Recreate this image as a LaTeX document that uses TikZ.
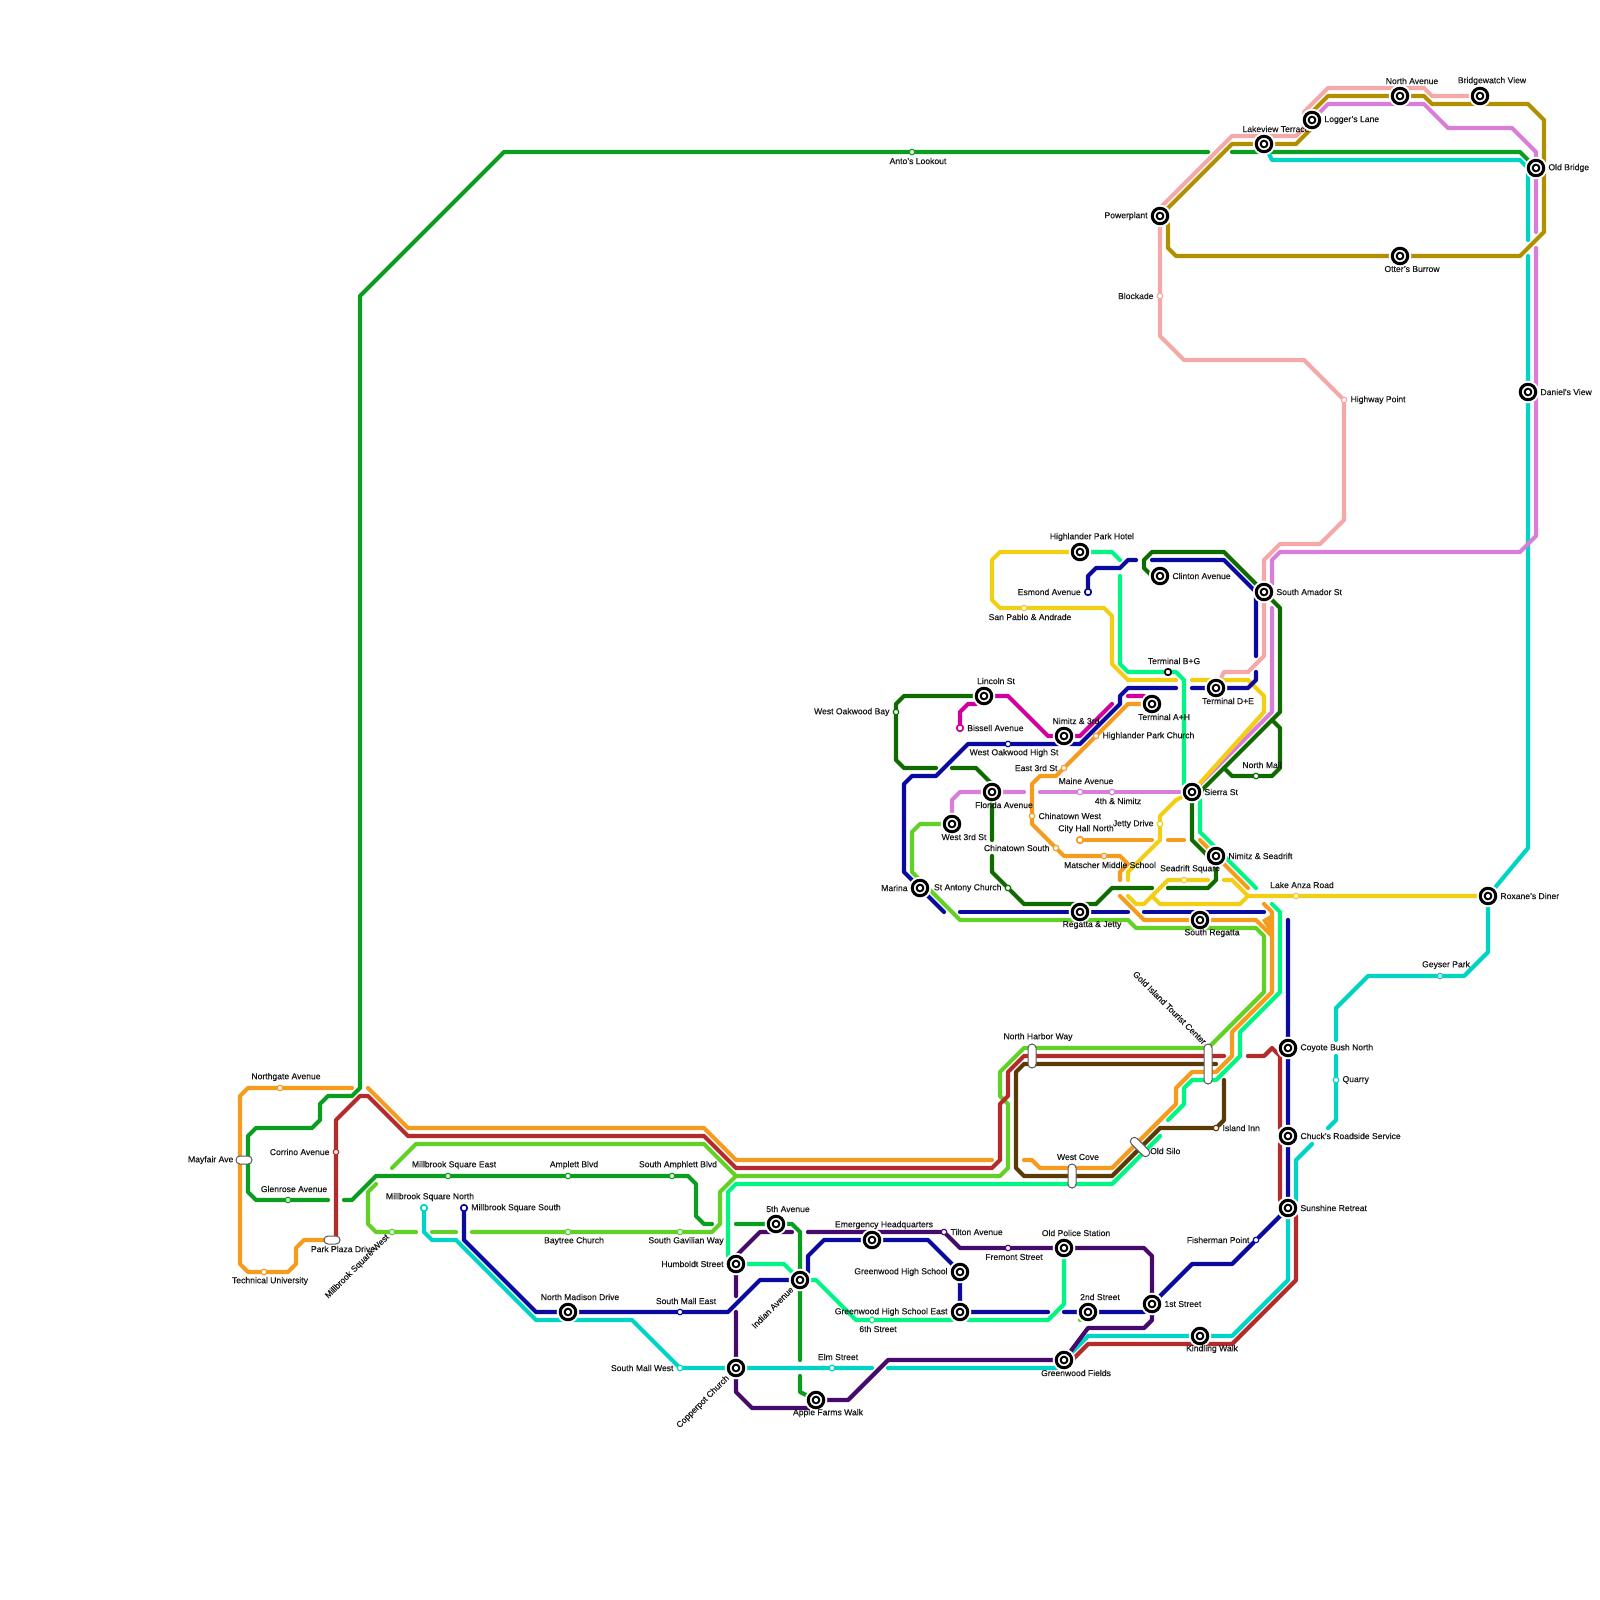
\documentclass[tikz,border=0pt]{standalone}
\usepackage{fontspec}
\setmainfont[FakeBold=0.5]{Liberation Sans}
\usepackage{xcolor}

\definecolor{lineGreen}{HTML}{0A9E20}
\definecolor{linePink}{HTML}{F5A8A8}
\definecolor{lineGold}{HTML}{B09000}
\definecolor{lineTeal}{HTML}{00D4C4}
\definecolor{lineOrchid}{HTML}{D87DD8}
\definecolor{lineMint}{HTML}{00F585}
\definecolor{lineForest}{HTML}{0F6B00}
\definecolor{lineBlue}{HTML}{0A0AA0}
\definecolor{lineOrange}{HTML}{F59B1E}
\definecolor{lineRed}{HTML}{B52A2A}
\definecolor{lineLime}{HTML}{62D024}
\definecolor{lineYellow}{HTML}{F2CF14}
\definecolor{lineMagenta}{HTML}{D000A0}
\definecolor{linePlum}{HTML}{450A6A}
\definecolor{lineBrown}{HTML}{5A3B05}

\pgfdeclarelayer{lines}
\pgfsetlayers{lines,main}

\begin{document}
\begin{tikzpicture}[
    x=1pt, y=-1pt,
    font=\fontsize{8.6}{10}\selectfont,
    metro_line/.style={line width=4.2pt, line cap=round, line join=round},
    hub_stop/.style={circle, draw=black, fill=white, line width=3pt, minimum size=15.5pt, inner sep=0pt,
        preaction={draw=white, line width=7pt},
        path picture={
            \fill[black] (path picture bounding box.center) circle (4.4pt);
            \fill[white] (path picture bounding box.center) circle (2.1pt);
        }},
    small_stop/.style={circle, draw=#1, fill=white, line width=1.2pt, minimum size=5.5pt, inner sep=0pt},
    end_stop/.style={circle, draw=#1, fill=white, line width=1.7pt, minimum size=6.5pt, inner sep=0pt},
    pill_stop/.style={rectangle, rounded corners=3.9pt, draw=black!65, fill=white, line width=1pt, inner sep=0pt},
    station_label/.style={inner sep=0pt, text=black!90},
    hub_n/.style={label={[station_label, xshift=12pt, yshift=15pt]center:#1}},
    hub_s/.style={label={[station_label, xshift=12pt, yshift=-13pt]center:#1}},
    hub_e/.style={label={[station_label, xshift=3pt]right:#1}},
    hub_w/.style={label={[station_label, xshift=-3pt]left:#1}},
    stop_n/.style={label={[station_label, xshift=6pt, yshift=11pt]center:#1}},
    stop_s/.style={label={[station_label, xshift=6pt, yshift=-9pt]center:#1}},
    stop_e/.style={label={[station_label, xshift=3pt]right:#1}},
    stop_w/.style={label={[station_label, xshift=-3pt]left:#1}}
]
\useasboundingbox (0, 0) rectangle (1600, 1600);

% Hub stations
\node[hub_stop, hub_w={Powerplant}] (powerplant) at (1160, 216) {};
\node[hub_stop, hub_n={Lakeview Terrace}] (lakeview) at (1264, 144) {};
\node[hub_stop, hub_e={Logger's Lane}] (loggers) at (1312, 120) {};
\node[hub_stop, hub_n={North Avenue}] (north_avenue) at (1400, 96) {};
\node[hub_stop, hub_n={Bridgewatch View}] (bridgewatch) at (1480, 96) {};
\node[hub_stop, hub_e={Old Bridge}] (old_bridge) at (1536, 168) {};
\node[hub_stop, hub_s={Otter's Burrow}] (otters) at (1400, 256) {};
\node[hub_stop, hub_e={Daniel's View}] (daniels) at (1528, 392) {};
\node[hub_stop, hub_e={South Amador St}] (south_amador) at (1264, 592) {};
\node[hub_stop, hub_e={Clinton Avenue}] (clinton) at (1160, 576) {};
\node[hub_stop, hub_n={Highlander Park Hotel}] (highlander_hotel) at (1080, 552) {};
\node[hub_stop, hub_s={Terminal D+E}] (terminal_de) at (1216, 688) {};
\node[hub_stop, hub_s={Terminal A+H}] (terminal_ah) at (1152, 704) {};
\node[hub_stop, hub_n={Nimitz \& 3rd}] (nimitz_3rd) at (1064, 736) {};
\node[hub_stop, hub_n={Lincoln St}] (lincoln) at (984, 696) {};
\node[hub_stop, hub_s={Florida Avenue}] (florida) at (992, 792) {};
\node[hub_stop, hub_s={West 3rd St}] (west_3rd) at (952, 824) {};
\node[hub_stop, hub_w={Marina}] (marina) at (920, 888) {};
\node[hub_stop, hub_s={Regatta \& Jetty}] (regatta) at (1080, 912) {};
\node[hub_stop, hub_s={South Regatta}] (south_regatta) at (1200, 920) {};
\node[hub_stop, hub_e={Sierra St}] (sierra) at (1192, 792) {};
\node[hub_stop, hub_e={Nimitz \& Seadrift}] (nimitz_seadrift) at (1216, 856) {};
\node[hub_stop, hub_e={Roxane's Diner}] (roxanes) at (1488, 896) {};
\node[hub_stop, hub_e={Coyote Bush North}] (coyote) at (1288, 1048) {};
\node[hub_stop, hub_e={Chuck's Roadside Service}] (chucks) at (1288, 1136) {};
\node[hub_stop, hub_e={Sunshine Retreat}] (sunshine) at (1288, 1208) {};
\node[hub_stop, hub_s={Kindling Walk}] (kindling) at (1200, 1336) {};
\node[hub_stop, hub_s={Greenwood Fields}] (greenwood_fields) at (1064, 1360) {};
\node[hub_stop, hub_e={1st Street}] (first_street) at (1152, 1304) {};
\node[hub_stop, hub_n={2nd Street}] (second_street) at (1088, 1312) {};
\node[hub_stop, hub_n={Old Police Station}] (old_police) at (1064, 1248) {};
\node[hub_stop, hub_w={Greenwood High School East}] (greenwood_east) at (960, 1312) {};
\node[hub_stop, hub_w={Greenwood High School}] (greenwood_high) at (960, 1272) {};
\node[hub_stop, hub_n={Emergency Headquarters}] (emergency) at (872, 1240) {};
\node[hub_stop, hub_n={5th Avenue}] (fifth_avenue) at (776, 1224) {};
\node[hub_stop] (indian) at (800, 1280) {};
\node[hub_stop, hub_w={Humboldt Street}] (humboldt) at (736, 1264) {};
\node[hub_stop] (copperpot) at (736, 1368) {};
\node[hub_stop, hub_s={Apple Farms Walk}] (apple_farms) at (816, 1400) {};
\node[hub_stop, hub_n={North Madison Drive}] (north_madison) at (568, 1312) {};

% Small stations
\node[small_stop=lineGreen, stop_s={Anto's Lookout}] (antos) at (912, 152) {};
\node[small_stop=linePink, stop_w={Blockade}] (blockade) at (1160, 296) {};
\node[small_stop=linePink, stop_e={Highway Point}] (highway_point) at (1344, 400) {};
\node[end_stop=lineBlue, stop_w={Esmond Avenue}] (esmond) at (1088, 592) {};
\node[small_stop=lineYellow, stop_s={San Pablo \& Andrade}] (san_pablo) at (1024, 608) {};
\node[small_stop=lineForest, stop_w={West Oakwood Bay}] (west_oakwood_bay) at (896, 712) {};
\node[end_stop=lineMagenta, stop_e={Bissell Avenue}] (bissell) at (960, 728) {};
\node[small_stop=lineBlue, stop_s={West Oakwood High St}] (west_oakwood_high) at (1008, 744) {};
\node[small_stop=lineOrange, stop_e={Highlander Park Church}] (highlander_church) at (1096, 736) {};
\node[small_stop=lineOrange, stop_w={East 3rd St}] (east_3rd) at (1064, 768) {};
\node[small_stop=lineOrchid, stop_n={Maine Avenue}] (maine) at (1080, 792) {};
\node[small_stop=lineOrchid, stop_s={4th \& Nimitz}] (fourth_nimitz) at (1112, 792) {};
\node[small_stop=lineOrange, stop_e={Chinatown West}] (chinatown_west) at (1032, 816) {};
\node[end_stop=lineOrange, stop_n={City Hall North}] (city_hall) at (1080, 840) {};
\node[small_stop=lineOrange, stop_w={Chinatown South}] (chinatown_south) at (1056, 848) {};
\node[small_stop=lineOrange, stop_s={Matscher Middle School}] (matscher) at (1104, 856) {};
\node[small_stop=lineYellow, stop_w={Jetty Drive}] (jetty) at (1160, 824) {};
\node[small_stop=lineForest, stop_w={St Antony Church}] (st_antony) at (1008, 888) {};
\node[small_stop=lineYellow, stop_n={Seadrift Square}] (seadrift) at (1184, 880) {};
\node[small_stop=lineYellow, stop_n={Lake Anza Road}] (lake_anza) at (1296, 896) {};
\node[end_stop=black, stop_n={Terminal B+G}] (terminal_bg) at (1168, 672) {};
\node[small_stop=lineForest, stop_n={North Mall}] (north_mall) at (1256, 776) {};
\node[small_stop=lineTeal, stop_n={Geyser Park}] (geyser) at (1440, 976) {};
\node[small_stop=lineTeal, stop_e={Quarry}] (quarry) at (1336, 1080) {};
\node[small_stop=lineBrown, stop_e={Island Inn}] (island_inn) at (1216, 1128) {};
\node[small_stop=linePlum, stop_e={Tilton Avenue}] (tilton) at (944, 1232) {};
\node[small_stop=linePlum, stop_s={Fremont Street}] (fremont) at (1008, 1248) {};
\node[small_stop=lineMint, stop_s={6th Street}] (sixth) at (872, 1320) {};
\node[small_stop=lineTeal, stop_n={Elm Street}] (elm) at (832, 1368) {};
\node[small_stop=lineBlue, stop_w={Fisherman Point}] (fisherman) at (1256, 1240) {};
\node[small_stop=lineBlue, stop_n={South Mall East}] (south_mall_east) at (680, 1312) {};
\node[small_stop=lineTeal, stop_w={South Mall West}] (south_mall_west) at (680, 1368) {};
\node[small_stop=lineLime, stop_s={Baytree Church}] (baytree) at (568, 1232) {};
\node[small_stop=lineLime, stop_s={South Gavilian Way}] (south_gavilian) at (680, 1232) {};
\node[small_stop=lineLime] (millbrook_west) at (392, 1232) {};
\node[end_stop=lineTeal, stop_n={Millbrook Square North}] (millbrook_north) at (424, 1208) {};
\node[end_stop=lineBlue, stop_e={Millbrook Square South}] (millbrook_south) at (464, 1208) {};
\node[small_stop=lineGreen, stop_n={Millbrook Square East}] (millbrook_east) at (448, 1176) {};
\node[small_stop=lineGreen, stop_n={Amplett Blvd}] (amplett) at (568, 1176) {};
\node[small_stop=lineGreen, stop_n={South Amphlett Blvd}] (south_amphlett) at (672, 1176) {};
\node[small_stop=lineOrange, stop_n={Northgate Avenue}] (northgate) at (280, 1088) {};
\node[small_stop=lineGreen, stop_n={Glenrose Avenue}] (glenrose) at (288, 1200) {};
\node[small_stop=lineOrange, stop_s={Technical University}] (technical) at (264, 1272) {};
\node[small_stop=lineRed, stop_w={Corrino Avenue}] (corrino) at (336, 1152) {};

% Interchange pills
\node[pill_stop, minimum width=16pt, minimum height=8pt, label={[station_label, xshift=-2pt]left:Mayfair Ave}] (mayfair) at (244, 1160) {};
\node[pill_stop, minimum width=16pt, minimum height=8pt, label={[station_label, xshift=11pt, yshift=-9pt]center:Park Plaza Drive}] (park_plaza) at (332, 1240) {};
\node[pill_stop, minimum width=8pt, minimum height=24pt, label={[station_label, xshift=6pt, yshift=19pt]center:North Harbor Way}] (north_harbor) at (1032, 1056) {};
\node[pill_stop, minimum width=8pt, minimum height=24pt, label={[station_label, xshift=6pt, yshift=19pt]center:West Cove}] (west_cove) at (1072, 1176) {};
\node[pill_stop, minimum width=8pt, minimum height=40pt] (gold_island) at (1208, 1064) {};
\node[pill_stop, minimum width=24pt, minimum height=8pt, rotate=-45] (old_silo) at (1140, 1147) {};

% Slanted and loose labels
\node[station_label, anchor=west] (old_silo_label) at (1150, 1151) {Old Silo};
\node[station_label, rotate=-45, anchor=east] (gold_island_label) at (1205, 1043) {Gold Island Tourist Center};
\node[station_label, rotate=45, anchor=east] (millbrook_west_label) at (388, 1236) {Millbrook Square West};
\node[station_label, rotate=45, anchor=east] (indian_label) at (792, 1288) {Indian Avenue};
\node[station_label, rotate=45, anchor=east] (copperpot_label) at (728, 1377) {Copperpot Church};

% Loose line ends
\coordinate (anto_end) at (1208, 152);
\coordinate (lakeview_west) at (1232, 152);
\coordinate (glenrose_end) at (328, 1200);
\coordinate (glenrose_east) at (344, 1200);
\coordinate (amphlett_end) at (712, 1224);
\coordinate (fifth_west) at (736, 1224);
\coordinate (indian_south) at (800, 1360);
\coordinate (apple_north) at (800, 1376);
\coordinate (teal_bridge_n) at (1528, 240);
\coordinate (teal_bridge_s) at (1528, 256);
\coordinate (teal_coyote_n) at (1336, 1040);
\coordinate (teal_coyote_s) at (1336, 1056);
\coordinate (teal_chucks_n) at (1328, 1128);
\coordinate (teal_chucks_s) at (1312, 1144);
\coordinate (teal_elm_e) at (888, 1368);
\coordinate (teal_elm_w) at (872, 1368);
\coordinate (orchid_bridge_n) at (1536, 232);
\coordinate (orchid_bridge_s) at (1536, 248);
\coordinate (orchid_amador_n) at (1272, 584);
\coordinate (orchid_amador_s) at (1272, 608);
\coordinate (orchid_maine_w) at (1040, 792);
\coordinate (orchid_florida_e) at (1024, 792);
\coordinate (lime_fork) at (736, 1176);
\coordinate (lime_east_end) at (392, 1168);
\coordinate (lime_baytree_w) at (472, 1232);
\coordinate (lime_teal_e) at (456, 1232);
\coordinate (lime_teal_w) at (432, 1232);
\coordinate (lime_west_e) at (416, 1232);
\coordinate (lime_west_end) at (376, 1184);
\coordinate (lime_stub) at (1080, 1320);
\coordinate (orange_north_e) at (352, 1088);
\coordinate (orange_north_w) at (368, 1088);
\coordinate (orange_cove_w) at (992, 1160);
\coordinate (orange_cove_e) at (1024, 1160);
\coordinate (orange_top_end) at (1264, 904);
\coordinate (orange_regatta_w) at (1120, 896);
\coordinate (orange_fork) at (1272, 936);
\coordinate (orange_web_w) at (1262, 920);
\coordinate (orange_web_n) at (1272, 914);
\coordinate (matscher_end) at (1120, 880);
\coordinate (city_hall_e) at (1152, 840);
\coordinate (dash_w) at (1168, 840);
\coordinate (dash_e) at (1184, 840);
\coordinate (seadrift_nw) at (1200, 840);
\coordinate (seadrift_se) at (1248, 888);
\coordinate (park_red) at (336, 1240);
\coordinate (red_harbor_e) at (1224, 1056);
\coordinate (red_coyote_w) at (1248, 1056);
\coordinate (red_chucks_n) at (1280, 1128);
\coordinate (red_chucks_s) at (1280, 1144);
\coordinate (brown_harbor_e) at (1216, 1064);
\coordinate (brown_inn_n) at (1224, 1080);
\coordinate (yellow_bg_e) at (1176, 680);
\coordinate (yellow_de_w) at (1192, 680);
\coordinate (jetty_end) at (1128, 880);
\coordinate (yellow_low_w) at (1128, 896);
\coordinate (seadrift_e) at (1208, 880);
\coordinate (anza_w) at (1224, 880);
\coordinate (yellow_inner_w) at (1152, 896);
\coordinate (anza_fork) at (1248, 896);
\coordinate (forest_oak_e) at (936, 768);
\coordinate (forest_florida_w) at (952, 768);
\coordinate (forest_florida_s) at (992, 840);
\coordinate (forest_antony_n) at (992, 856);
\coordinate (forest_regatta_e) at (1152, 888);
\coordinate (forest_seadrift_w) at (1168, 888);
\coordinate (mall_west) at (1224, 768);
\coordinate (mall_east) at (1272, 720);
\coordinate (magenta_end) at (1112, 704);
\coordinate (magenta_ah_w) at (1128, 696);
\coordinate (blue_esmond_e) at (1136, 560);
\coordinate (blue_clinton_w) at (1152, 560);
\coordinate (blue_amador_s) at (1256, 656);
\coordinate (blue_de_n) at (1256, 672);
\coordinate (blue_de_w) at (1192, 688);
\coordinate (blue_bg_e) at (1176, 688);
\coordinate (blue_marina_e) at (944, 912);
\coordinate (blue_regatta_w) at (960, 912);
\coordinate (blue_regatta_e) at (1128, 912);
\coordinate (blue_south_w) at (1144, 912);
\coordinate (blue_south_e) at (1264, 912);
\coordinate (blue_coyote_n) at (1288, 920);
\coordinate (blue_second_w) at (1064, 1312);
\coordinate (blue_east_e) at (1048, 1312);
\coordinate (mint_hotel_e) at (1120, 560);
\coordinate (mint_esmond_s) at (1120, 576);
\coordinate (mint_sierra_n) at (1184, 784);
\coordinate (mint_seadrift_se) at (1256, 888);
\coordinate (mint_top_end) at (1272, 904);
\coordinate (mint_silo_n) at (1168, 1120);
\coordinate (mint_silo_s) at (1160, 1136);
\coordinate (mint_east_w) at (952, 1320);
\coordinate (mint_east_e) at (968, 1320);
\coordinate (plum_humboldt_s) at (736, 1296);
\coordinate (plum_fifth_e) at (792, 1232);
\coordinate (plum_tilton_w) at (808, 1232);
\coordinate (plum_copper_n) at (736, 1312);

\begin{pgfonlayer}{lines}
% Green
\draw[metro_line, lineGreen] (anto_end) -- (antos) -- (504, 152) -- (360, 296) -- (360, 1088) -- (352, 1096) -- (328, 1096) -- (320, 1104) -- (320, 1120) -- (312, 1128) -- (256, 1128) -- (248, 1136) -- (248, 1192) -- (256, 1200) -- (glenrose) -- (glenrose_end);
\draw[metro_line, lineGreen] (lakeview_west) -- (1520, 152) -- (old_bridge);
\draw[metro_line, lineGreen] (glenrose_east) -- (352, 1200) -- (376, 1176) -- (millbrook_east) -- (amplett) -- (south_amphlett) -- (688, 1176) -- (696, 1184) -- (696, 1216) -- (704, 1224) -- (amphlett_end);
\draw[metro_line, lineGreen] (fifth_west) -- (fifth_avenue) -- (792, 1224) -- (800, 1232) -- (indian) -- (indian_south);
\draw[metro_line, lineGreen] (apple_north) -- (800, 1392) -- (apple_farms);

% Pink
\draw[metro_line, linePink] (powerplant) -- (1160, 208) -- (1232, 136) -- (1296, 136) -- (1304, 128) -- (1304, 112) -- (1328, 88) -- (1424, 88) -- (1432, 96) -- (bridgewatch);
\draw[metro_line, linePink] (powerplant) -- (blockade) -- (1160, 336) -- (1184, 360) -- (1304, 360) -- (highway_point) -- (1344, 520) -- (1320, 544) -- (1280, 544) -- (1264, 560) -- (1264, 656) -- (1248, 672) -- (1224, 672) -- (terminal_de);

% Gold
\draw[metro_line, lineGold] (powerplant) -- (1232, 144) -- (1296, 144) -- (1312, 128) -- (1312, 112) -- (1328, 96) -- (1424, 96) -- (1432, 104) -- (1528, 104) -- (1544, 120) -- (1544, 232) -- (1520, 256) -- (1176, 256) -- (1168, 248) -- (1168, 224) -- (powerplant);

% Teal
\draw[metro_line, lineTeal] (lakeview) -- (1272, 160) -- (1520, 160) -- (1528, 168) -- (teal_bridge_n);
\draw[metro_line, lineTeal] (teal_bridge_s) -- (daniels) -- (1528, 848) -- (roxanes) -- (1488, 952) -- (1464, 976) -- (geyser) -- (1368, 976) -- (1336, 1008) -- (teal_coyote_n);
\draw[metro_line, lineTeal] (teal_coyote_s) -- (quarry) -- (1336, 1120) -- (teal_chucks_n);
\draw[metro_line, lineTeal] (teal_chucks_s) -- (1296, 1160) -- (1296, 1200) -- (sunshine);
\draw[metro_line, lineTeal] (sunshine) -- (1288, 1280) -- (1232, 1336) -- (kindling) -- (1088, 1336) -- (greenwood_fields);
\draw[metro_line, lineTeal] (greenwood_fields) -- (1056, 1368) -- (teal_elm_e);
\draw[metro_line, lineTeal] (teal_elm_w) -- (elm) -- (copperpot) -- (south_mall_west) -- (632, 1320) -- (536, 1320) -- (456, 1240) -- (432, 1240) -- (424, 1232) -- (millbrook_north);

% Orchid
\draw[metro_line, lineOrchid] (loggers) -- (1328, 104) -- (1424, 104) -- (1448, 128) -- (1512, 128) -- (1536, 152) -- (old_bridge) -- (orchid_bridge_n);
\draw[metro_line, lineOrchid] (orchid_bridge_s) -- (1536, 536) -- (1520, 552) -- (1280, 552) -- (1272, 560) -- (orchid_amador_n);
\draw[metro_line, lineOrchid] (orchid_amador_s) -- (1272, 712) -- (sierra);
\draw[metro_line, lineOrchid] (sierra) -- (fourth_nimitz) -- (maine) -- (orchid_maine_w);
\draw[metro_line, lineOrchid] (orchid_florida_e) -- (florida) -- (960, 792) -- (952, 800) -- (west_3rd);

% Lime
\draw[metro_line, lineLime] (west_3rd) -- (920, 824) -- (912, 832) -- (912, 872) -- (960, 920) -- (1128, 920) -- (1136, 928) -- (1256, 928) -- (1264, 936) -- (1264, 992) -- (1208, 1048) -- (1024, 1048) -- (1000, 1072) -- (1000, 1096) -- (1008, 1104) -- (1008, 1168) -- (1000, 1176) -- (lime_fork) -- (704, 1144) -- (416, 1144) -- (lime_east_end);
\draw[metro_line, lineLime] (lime_fork) -- (720, 1192) -- (720, 1224) -- (712, 1232) -- (south_gavilian) -- (baytree) -- (lime_baytree_w);
\draw[metro_line, lineLime] (lime_teal_e) -- (lime_teal_w);
\draw[metro_line, lineLime] (lime_west_e) -- (millbrook_west) -- (376, 1232) -- (368, 1224) -- (368, 1192) -- (lime_west_end);
\draw[metro_line, lineLime] (lime_stub) -- (second_street);

% Orange
\draw[metro_line, lineOrange] (orange_north_e) -- (northgate) -- (248, 1088) -- (240, 1096) -- (240, 1264) -- (248, 1272) -- (technical) -- (288, 1272) -- (296, 1264) -- (296, 1248) -- (304, 1240) -- (park_plaza);
\draw[metro_line, lineOrange] (orange_north_w) -- (408, 1128) -- (704, 1128) -- (736, 1160) -- (orange_cove_w);
\draw[metro_line, lineOrange] (orange_cove_e) -- (1032, 1160) -- (1040, 1168) -- (1112, 1168) -- (1176, 1104) -- (1176, 1088) -- (1192, 1072) -- (1216, 1072) -- (1232, 1056) -- (1232, 1032) -- (1272, 992) -- (1272, 912) -- (orange_top_end);
\draw[metro_line, lineOrange] (orange_regatta_w) -- (1144, 920) -- (south_regatta) -- (1256, 920) -- (orange_fork);
\fill[lineOrange] (orange_web_w) -- (orange_web_n) -- (orange_fork) -- cycle;
\draw[metro_line, lineOrange] (terminal_ah) -- (1128, 704) -- (highlander_church) -- (east_3rd) -- (1056, 776) -- (1040, 776) -- (1032, 784) -- (chinatown_west) -- (1032, 824) -- (chinatown_south) -- (1064, 856) -- (matscher) -- (1120, 856) -- (1128, 864) -- (1120, 872) -- (matscher_end);
\draw[metro_line, lineOrange] (city_hall) -- (city_hall_e);
\draw[metro_line, lineOrange] (dash_w) -- (dash_e);
\draw[metro_line, lineOrange] (seadrift_nw) -- (seadrift_se);

% Red
\draw[metro_line, lineRed] (park_red) -- (corrino) -- (336, 1120) -- (360, 1096) -- (368, 1096) -- (408, 1136) -- (704, 1136) -- (736, 1168) -- (992, 1168) -- (1000, 1160) -- (1000, 1104) -- (1008, 1096) -- (1008, 1072) -- (1024, 1056) -- (red_harbor_e);
\draw[metro_line, lineRed] (red_coyote_w) -- (1264, 1056) -- (1272, 1048) -- (1280, 1056) -- (red_chucks_n);
\draw[metro_line, lineRed] (red_chucks_s) -- (1280, 1200) -- (1296, 1216) -- (1296, 1280) -- (1232, 1344) -- (1088, 1344) -- (1072, 1360) -- (greenwood_fields);

% Brown
\draw[metro_line, lineBrown] (brown_harbor_e) -- (1024, 1064) -- (1016, 1072) -- (1016, 1168) -- (1024, 1176) -- (1112, 1176) -- (1160, 1128) -- (island_inn) -- (1224, 1120) -- (brown_inn_n);

% Yellow
\draw[metro_line, lineYellow] (highlander_hotel) -- (1000, 552) -- (992, 560) -- (992, 600) -- (1000, 608) -- (san_pablo) -- (1104, 608) -- (1112, 616) -- (1112, 664) -- (1128, 680) -- (yellow_bg_e);
\draw[metro_line, lineYellow] (yellow_de_w) -- (1248, 680) -- (1264, 696) -- (1264, 712) -- (sierra);
\draw[metro_line, lineYellow] (sierra) -- (1176, 800) -- (1160, 816) -- (jetty) -- (1160, 840) -- (1128, 872) -- (jetty_end);
\draw[metro_line, lineYellow] (yellow_low_w) -- (1136, 904) -- (1144, 904) -- (1168, 880) -- (seadrift) -- (seadrift_e);
\draw[metro_line, lineYellow] (anza_w) -- (1232, 880) -- (anza_fork) -- (lake_anza) -- (roxanes);
\draw[metro_line, lineYellow] (yellow_inner_w) -- (1160, 904) -- (1240, 904) -- (anza_fork);

% Forest green
\draw[metro_line, lineForest] (lincoln) -- (904, 696) -- (896, 704) -- (west_oakwood_bay) -- (896, 760) -- (904, 768) -- (forest_oak_e);
\draw[metro_line, lineForest] (forest_florida_w) -- (976, 768) -- (992, 784) -- (florida) -- (forest_florida_s);
\draw[metro_line, lineForest] (forest_antony_n) -- (992, 872) -- (st_antony) -- (1024, 904) -- (1096, 904) -- (1112, 888) -- (forest_regatta_e);
\draw[metro_line, lineForest] (forest_seadrift_w) -- (1208, 888) -- (1216, 880) -- (nimitz_seadrift) -- (1208, 856) -- (1192, 840) -- (sierra);
\draw[metro_line, lineForest] (clinton) -- (1152, 576) -- (1144, 568) -- (1144, 560) -- (1152, 552) -- (1224, 552) -- (south_amador) -- (1280, 608) -- (1280, 712) -- (1200, 792) -- (sierra);
\draw[metro_line, lineForest] (mall_west) -- (1232, 776) -- (north_mall) -- (1272, 776) -- (1280, 768) -- (1280, 728) -- (mall_east);

% Magenta
\draw[metro_line, lineMagenta] (bissell) -- (960, 712) -- (968, 704) -- (976, 704) -- (lincoln);
\draw[metro_line, lineMagenta] (lincoln) -- (1008, 696) -- (1048, 736) -- (nimitz_3rd) -- (1080, 736) -- (magenta_end);
\draw[metro_line, lineMagenta] (magenta_ah_w) -- (1144, 696) -- (terminal_ah);

% Blue
\draw[metro_line, lineBlue] (esmond) -- (1088, 576) -- (1096, 568) -- (1120, 568) -- (1128, 560) -- (blue_esmond_e);
\draw[metro_line, lineBlue] (blue_clinton_w) -- (1224, 560) -- (1256, 592) -- (blue_amador_s);
\draw[metro_line, lineBlue] (blue_de_n) -- (1256, 680) -- (1248, 688) -- (terminal_de) -- (blue_de_w);
\draw[metro_line, lineBlue] (blue_bg_e) -- (1128, 688) -- (1120, 696) -- (1120, 704) -- (1080, 744) -- (west_oakwood_high) -- (968, 744) -- (936, 776) -- (912, 776) -- (904, 784) -- (904, 872) -- (marina) -- (blue_marina_e);
\draw[metro_line, lineBlue] (blue_regatta_w) -- (regatta) -- (blue_regatta_e);
\draw[metro_line, lineBlue] (blue_south_w) -- (blue_south_e);
\draw[metro_line, lineBlue] (blue_coyote_n) -- (coyote) -- (chucks) -- (sunshine) -- (fisherman) -- (1232, 1264) -- (1192, 1264) -- (first_street);
\draw[metro_line, lineBlue] (first_street) -- (1144, 1312) -- (second_street) -- (blue_second_w);
\draw[metro_line, lineBlue] (blue_east_e) -- (greenwood_east) -- (greenwood_high) -- (928, 1240) -- (emergency) -- (824, 1240) -- (808, 1256) -- (808, 1272) -- (indian);
\draw[metro_line, lineBlue] (indian) -- (760, 1280) -- (728, 1312) -- (south_mall_east) -- (north_madison) -- (536, 1312) -- (464, 1240) -- (millbrook_south);

% Mint
\draw[metro_line, lineMint] (highlander_hotel) -- (1112, 552) -- (mint_hotel_e);
\draw[metro_line, lineMint] (mint_esmond_s) -- (1120, 664) -- (1128, 672) -- (terminal_bg) -- (1176, 672) -- (1184, 680) -- (mint_sierra_n);
\draw[metro_line, lineMint] (sierra) -- (1200, 800) -- (1200, 832) -- (mint_seadrift_se);
\draw[metro_line, lineMint] (mint_top_end) -- (1280, 912) -- (1280, 992) -- (1240, 1032) -- (1240, 1056) -- (1216, 1080) -- (1192, 1080) -- (1184, 1088) -- (1184, 1104) -- (mint_silo_n);
\draw[metro_line, lineMint] (mint_silo_s) -- (1112, 1184) -- (736, 1184) -- (728, 1192) -- (728, 1256) -- (humboldt);
\draw[metro_line, lineMint] (humboldt) -- (784, 1264) -- (indian);
\draw[metro_line, lineMint] (indian) -- (816, 1280) -- (856, 1320) -- (sixth) -- (mint_east_w);
\draw[metro_line, lineMint] (mint_east_e) -- (1048, 1320) -- (1064, 1304) -- (old_police);

% Plum
\draw[metro_line, linePlum] (plum_humboldt_s) -- (736, 1256) -- (760, 1232) -- (plum_fifth_e);
\draw[metro_line, linePlum] (plum_tilton_w) -- (tilton) -- (960, 1248) -- (fremont) -- (old_police) -- (1144, 1248) -- (1152, 1256) -- (first_street) -- (1152, 1320) -- (1144, 1328) -- (1088, 1328) -- (greenwood_fields);
\draw[metro_line, linePlum] (greenwood_fields) -- (888, 1360) -- (848, 1400) -- (apple_farms) -- (808, 1408) -- (752, 1408) -- (736, 1392) -- (copperpot) -- (plum_copper_n);
\end{pgfonlayer}

\end{tikzpicture}
\end{document}
